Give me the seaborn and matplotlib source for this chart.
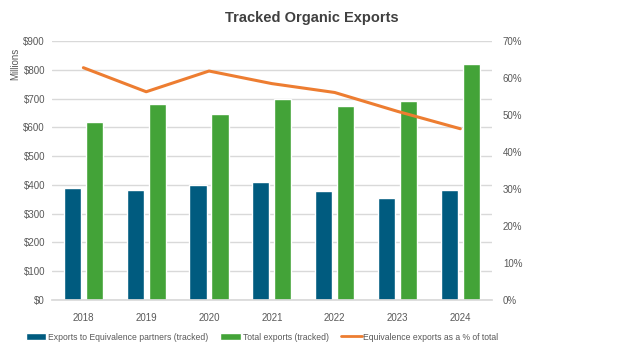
import numpy as np
import pandas as pd
import matplotlib
matplotlib.use("Agg")
import matplotlib.pyplot as plt
import seaborn as sns
from matplotlib.lines import Line2D
from matplotlib.patches import Patch
from matplotlib.ticker import FuncFormatter, MultipleLocator

years = ["2018", "2019", "2020", "2021", "2022", "2023", "2024"]
equiv_exports = [388, 383, 400, 409, 379, 355, 382]
total_exports = [617, 681, 645, 699, 675, 691, 820]
equiv_share = [62.8, 56.3, 61.9, 58.5, 56.1, 51.0, 46.3]

series_names = ["Exports to Equivalence partners (tracked)", "Total exports (tracked)"]
line_name = "Equivalence exports as a % of total"
colors = ["#005B7F", "#43A338"]
line_color = "#ED7D31"

sns.set_theme(style="white")
plt.rcParams["font.family"] = ["Liberation Sans", "DejaVu Sans"]
text_color = "#595959"

df = pd.DataFrame({
    "year": years * 2,
    "value": equiv_exports + total_exports,
    "series": [series_names[0]] * len(years) + [series_names[1]] * len(years),
})

fig = plt.figure(figsize=(6.24, 3.54), dpi=100)
ax = fig.add_axes([0.0833, 0.1525, 0.7047, 0.7315])

sns.barplot(data=df, x="year", y="value", hue="series", palette=colors,
            width=0.70, gap=0.22, ax=ax, legend=False, saturation=1)

ax.set_ylim(0, 900)
ax.set_xlim(-0.5, len(years) - 0.5)
ax.yaxis.set_major_locator(MultipleLocator(100))
ax.yaxis.set_major_formatter(FuncFormatter(lambda v, p: f"${v:,.0f}"))
ax.grid(axis="y", color="#D9D9D9", linewidth=1)
ax.set_axisbelow(True)
for s in ["top", "right", "left"]:
    ax.spines[s].set_visible(False)
ax.spines["bottom"].set_color("#D9D9D9")
ax.set_xlabel("")
ax.set_ylabel("")
ax.tick_params(axis="y", colors=text_color, labelsize=7, length=0, pad=5)
ax.tick_params(axis="x", colors=text_color, labelsize=7, length=0, pad=9)

ax2 = ax.twinx()
sns.lineplot(x=np.arange(len(years)), y=equiv_share, color=line_color,
             linewidth=2.2, ax=ax2)
ax2.set_ylim(0, 70)
ax2.yaxis.set_major_locator(MultipleLocator(10))
ax2.yaxis.set_major_formatter(FuncFormatter(lambda v, p: f"{v:.0f}%"))
for s in ["top", "right", "left", "bottom"]:
    ax2.spines[s].set_visible(False)
ax2.tick_params(axis="y", colors=text_color, labelsize=7, length=0, pad=8)
ax2.set_xlim(-0.5, len(years) - 0.5)

fig.text(0.5, 0.95, "Tracked Organic Exports", ha="center", va="center",
         fontsize=10.5, fontweight="bold", color="#404040")
fig.text(0.025, 0.82, "Millions", rotation=90, ha="center", va="center",
         fontsize=7, color=text_color)

handles = [Patch(facecolor=colors[0]), Patch(facecolor=colors[1]),
           Line2D([0], [0], color=line_color, linewidth=2)]
leg = fig.legend(handles, series_names + [line_name], loc="center",
                 bbox_to_anchor=(0.42, 0.048), ncol=3, frameon=False,
                 fontsize=6.2, handlelength=2.4, handleheight=0.7,
                 columnspacing=1.4, handletextpad=0.2)
for t in leg.get_texts():
    t.set_color(text_color)

fig.savefig("out.png", dpi=100)
